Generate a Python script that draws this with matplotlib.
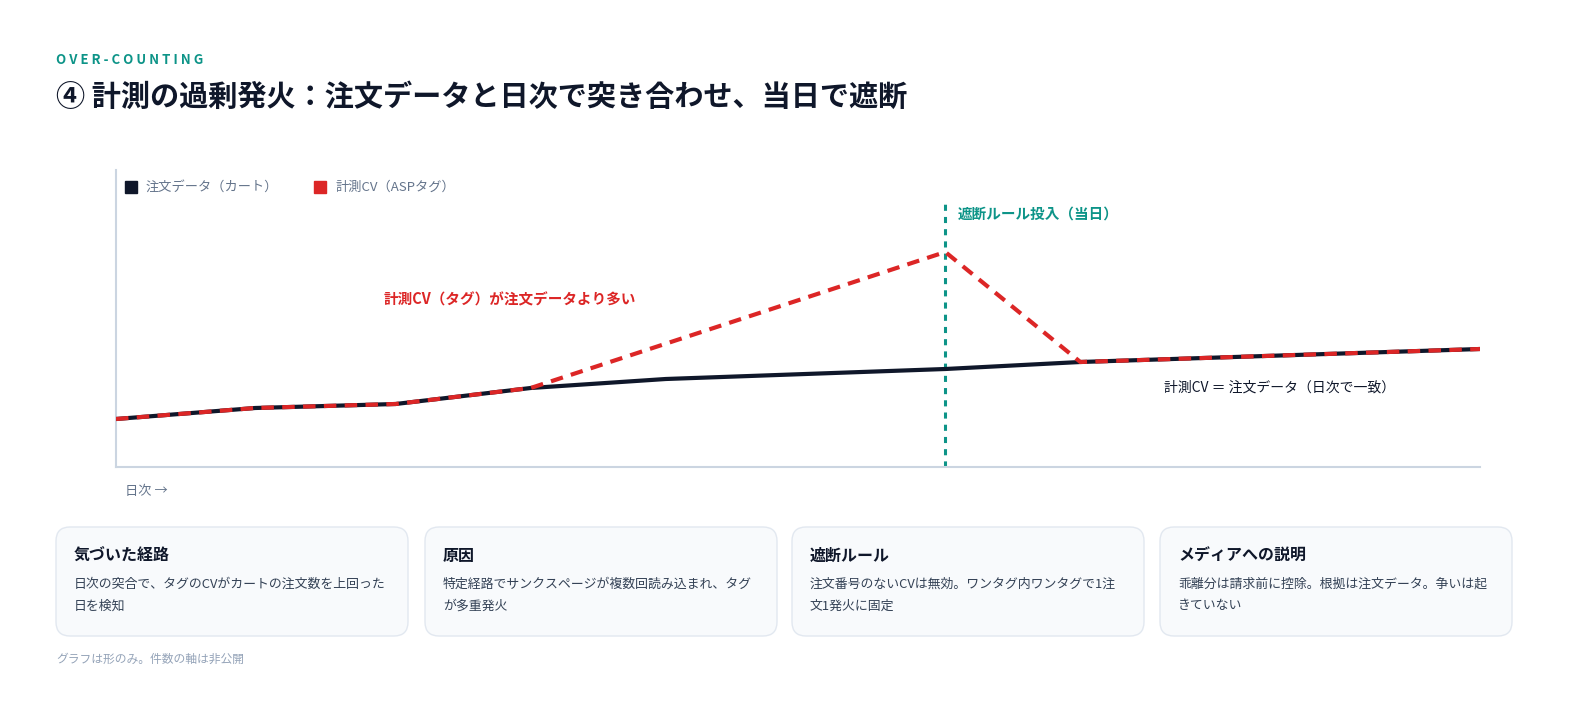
import matplotlib
matplotlib.use("Agg")
import matplotlib.pyplot as plt
from matplotlib.patches import FancyBboxPatch, Rectangle

plt.rcParams['font.family'] = ['Noto Sans CJK JP', 'DejaVu Sans']

# data (shape only, arbitrary units)
order_days = [0, 1.02, 2.05, 3.04, 4.03, 6.08, 7.07, 10]
order_vals = [48, 59, 63, 79, 88, 98, 105, 118]
tag_days = [0, 1.02, 2.05, 3.04, 6.08, 7.07, 10]
tag_vals = [48, 59, 63, 79, 215, 105, 118]
cutoff_day = 6.08

cards = [
    ("気づいた経路", "日次の突合で、タグのCVがカートの注文数を上回った\n日を検知"),
    ("原因", "特定経路でサンクスページが複数回読み込まれ、タグ\nが多重発火"),
    ("遮断ルール", "注文番号のないCVは無効。ワンタグ内ワンタグで1注\n文1発火に固定"),
    ("メディアへの説明", "乖離分は請求前に控除。根拠は注文データ。争いは起\nきていない"),
]

NAVY = "#0f172a"
RED = "#dc2626"
TEAL = "#0d9488"
GRAY = "#64748b"

fig = plt.figure(figsize=(15.84, 7.26), dpi=100)
ax = fig.add_axes([116 / 1584, 1 - 467 / 726, (1480 - 116) / 1584, (467 - 170) / 726])
ax.patch.set_alpha(0)
ax.set_xlim(0, 10)
ax.set_ylim(0, 297)
for s in ("top", "right"):
    ax.spines[s].set_visible(False)
for s in ("left", "bottom"):
    ax.spines[s].set_color("#cbd5e1")
    ax.spines[s].set_linewidth(1.5)
ax.set_xticks([])
ax.set_yticks([])

ax.plot(order_days, order_vals, color=NAVY, lw=3, solid_capstyle="butt", zorder=3)
ax.plot(tag_days, tag_vals, color=RED, lw=3, ls=(0, (3, 2)), zorder=4)
ax.vlines(cutoff_day, 0, 267, color=TEAL, lw=2.2, ls=(0, (2, 2)), zorder=2)
ax.text(cutoff_day + 0.09, 253, "遮断ルール投入（当日）", color=TEAL, fontsize=10.5,
        fontweight="bold", va="center")
ax.text(1.96, 168, "計測CV（タグ）が注文データより多い", color=RED, fontsize=10.5,
        fontweight="bold", va="center")
ax.text(7.68, 79, "計測CV ＝ 注文データ（日次で一致）", color=NAVY, fontsize=10, va="center")

# overlay in pixel coords
ov = fig.add_axes([0, 0, 1, 1], zorder=-1)
ov.set_xlim(0, 1584)
ov.set_ylim(726, 0)
ov.axis("off")

ov.text(56, 60, "O V E R - C O U N T I N G", color=TEAL, fontsize=9.5, fontweight="bold", va="center")
ov.text(56, 97, "④ 計測の過剰発火：注文データと日次で突き合わせ、当日で遮断", color=NAVY,
        fontsize=21, fontweight="bold", va="center")

ov.add_patch(Rectangle((125, 181), 12, 12, color=NAVY))
ov.text(146, 187, "注文データ（カート）", color=GRAY, fontsize=9.5, va="center")
ov.add_patch(Rectangle((314, 181), 12, 12, color=RED))
ov.text(335, 187, "計測CV（ASPタグ）", color=GRAY, fontsize=9.5, va="center")
ov.text(125, 492, "日次 →", color=GRAY, fontsize=9.5, va="center")

lefts = [56, 425, 792, 1160]
for x0, (title, body) in zip(lefts, cards):
    ov.add_patch(FancyBboxPatch((x0, 527), 352, 109, boxstyle="round,pad=0,rounding_size=14",
                                fc="#f8fafc", ec="#e2e8f0", lw=1))
    ov.text(x0 + 18, 556, title, color=NAVY, fontsize=11.5, fontweight="bold", va="center")
    ov.text(x0 + 18, 595, body, color="#334155", fontsize=9.3, va="center", linespacing=1.9)

ov.text(56, 659, "グラフは形のみ。件数の軸は非公開", color="#94a3b8", fontsize=8.5, va="center")

fig.savefig("out.png", dpi=100, facecolor="white")
